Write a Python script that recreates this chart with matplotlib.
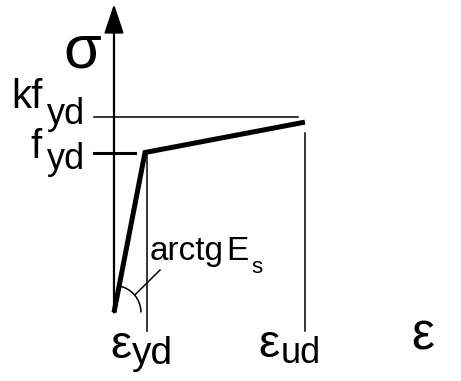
import matplotlib
import numpy as np

matplotlib.use("Agg")
import matplotlib.pyplot as plt
from matplotlib.patches import Arc

# bilinear steel diagram, normalised units (eps_yd = 1, f_yd = 1)
strain = [0.0, 1.0, 6.16]
stress = [0.0, 1.0, 1.19]
kf_yd = 1.225

# pixel scale of the drawing (origin and unit lengths in pixels)
W, H = 461, 381
X0, Y0 = 114, 312.5
SX, SY = 31.0, 160.0


def px(x, y):
    """Convert an image pixel position to data coordinates."""
    return (x - X0) / SX, (Y0 - y) / SY


plt.rcParams["font.family"] = ["Liberation Sans", "DejaVu Sans"]

fig = plt.figure(figsize=(W / 100, H / 100), dpi=100)
ax = fig.add_axes([0, 0, 1, 1])
ax.set_xlim(-X0 / SX, (W - X0) / SX)
ax.set_ylim((Y0 - H) / SY, Y0 / SY)
ax.axis("off")

# axes with arrow heads
arrow = dict(arrowstyle="-|>,head_length=1.8,head_width=0.6", mutation_scale=10,
             lw=1.6, color="black", shrinkA=0, shrinkB=0)
ax.annotate("", xy=px(X0, 4), xytext=(0, 0), arrowprops=arrow)
ax.annotate("", xy=px(463, Y0), xytext=(0, 0), arrowprops=arrow)

# helper lines
ax.plot([px(94, 0)[0], px(298, 0)[0]], [kf_yd, kf_yd], color="black", lw=1.1)
ax.plot([px(94, 0)[0], px(135, 0)[0]], [stress[1], stress[1]], color="black", lw=2.2)
y_low = px(0, 331)[1]
ax.plot([strain[1] + 0.05, strain[1] + 0.05], [stress[1], y_low], color="black", lw=1.1)
ax.plot([strain[2], strain[2]], [px(0, 133)[1], y_low], color="black", lw=1.1)

# stress-strain curve
ax.plot(strain, stress, color="black", lw=3.6, solid_joinstyle="miter",
        solid_capstyle="butt")

# angle arc
r = 27
theta = np.degrees(np.arctan2(stress[1], strain[1]))
ax.add_patch(Arc((0, 0), 2 * r / SX, 2 * r / SY, theta1=0, theta2=theta,
                 color="black", lw=1.1))
t_mid = np.radians(40)
ax.plot([r * np.cos(t_mid) / SX, px(160, 0)[0]],
        [r * np.sin(t_mid) / SY, px(0, 270)[1]], color="black", lw=1.1)

# labels
ax.text(*px(63, 68), "σ", fontsize=44, ha="left", va="baseline")
ax.text(*px(11, 108), "kf", fontsize=29, ha="left", va="baseline")
ax.text(*px(47, 124), "yd", fontsize=26, ha="left", va="baseline")
ax.text(*px(30, 158), "f", fontsize=29, ha="left", va="baseline")
ax.text(*px(47, 169), "yd", fontsize=26, ha="left", va="baseline")
ax.text(*px(150, 260), "arctg", fontsize=24, ha="left", va="baseline")
ax.text(*px(226, 260), "E", fontsize=24, ha="left", va="baseline")
ax.text(*px(251, 273), "s", fontsize=16, ha="left", va="baseline")
ax.text(*px(110, 358), "ε", fontsize=34, ha="left", va="baseline")
ax.text(*px(132, 364), "yd", fontsize=28, ha="left", va="baseline")
ax.text(*px(258, 357), "ε", fontsize=34, ha="left", va="baseline")
ax.text(*px(281, 363), "ud", fontsize=26, ha="left", va="baseline")
ax.text(*px(411, 350), "ε", fontsize=37, ha="left", va="baseline")

fig.savefig("out.png", dpi=100, facecolor="white")
